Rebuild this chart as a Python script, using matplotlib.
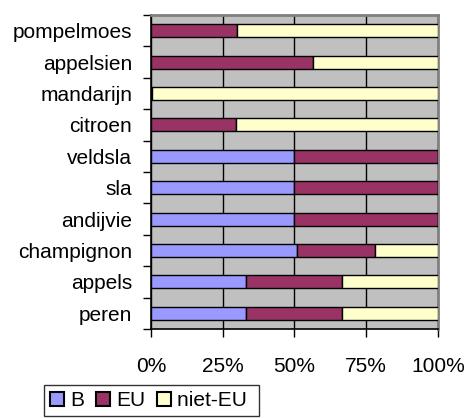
import matplotlib.pyplot as plt
import numpy as np

plt.rcParams['font.family'] = ['Liberation Sans', 'DejaVu Sans']

# categories from bottom to top
fruit = ['peren', 'appels', 'champignon', 'andijvie', 'sla', 'veldsla',
         'citroen', 'mandarijn', 'appelsien', 'pompelmoes']
b_share = [33, 33, 51, 50, 50, 50, 0, 0, 0, 0]
eu_share = [33.5, 33.5, 27, 50, 50, 50, 29.5, 0.5, 56.5, 30]
niet_eu_share = [33.5, 33.5, 22, 0, 0, 0, 70.5, 99.5, 43.5, 70]
x_ticks = [0, 25, 50, 75, 100]

fig = plt.figure(figsize=(4.67, 4.19), dpi=100)
ax = fig.add_axes([0.3233, 0.2148, 0.6146, 0.7494])
ax.set_facecolor('#C0C0C0')

y = np.arange(len(fruit))
h = 0.42
b = np.array(b_share)
eu = np.array(eu_share)
ne = np.array(niet_eu_share)

ax.barh(y, b, h, color='#9999FF', edgecolor='black', lw=1, label='B', zorder=3)
ax.barh(y, eu, h, left=b, color='#993366', edgecolor='black', lw=1, label='EU', zorder=3)
ax.barh(y, ne, h, left=b + eu, color='#FFFFCC', edgecolor='black', lw=1, label='niet-EU ', zorder=3)

ax.set_xlim(0, 100)
ax.set_ylim(-0.5, len(fruit) - 0.5)
ax.set_xticks(x_ticks)
ax.set_xticklabels([f'{v}%' for v in x_ticks], fontsize=15)
ax.set_yticks(y)
ax.set_yticklabels(fruit, fontsize=15)
ax.set_yticks(np.arange(len(fruit) + 1) - 0.5, minor=True)
ax.tick_params(axis='y', which='major', length=0, pad=13.5)
ax.tick_params(axis='y', which='minor', length=6, width=1, direction='out')
ax.tick_params(axis='x', length=6, width=1, direction='out', pad=14)

ax.grid(axis='x', color='black', lw=1)
ax.set_axisbelow(True)
for s in ['left', 'bottom']:
    ax.spines[s].set_color('black')
    ax.spines[s].set_linewidth(1.2)
for s in ['top', 'right']:
    ax.spines[s].set_color('#808080')
    ax.spines[s].set_linewidth(2)

leg = fig.legend(loc='upper left', bbox_to_anchor=(0.094, 0.082), ncol=3,
                 fontsize=15, frameon=True, fancybox=False, edgecolor='black',
                 handlelength=0.65, handleheight=0.65, handletextpad=0.33,
                 columnspacing=0.55, borderpad=0.3, borderaxespad=0)
leg.get_frame().set_linewidth(1)
for p in leg.get_patches():
    p.set_linewidth(1.5)

fig.savefig('out.png', dpi=100)
